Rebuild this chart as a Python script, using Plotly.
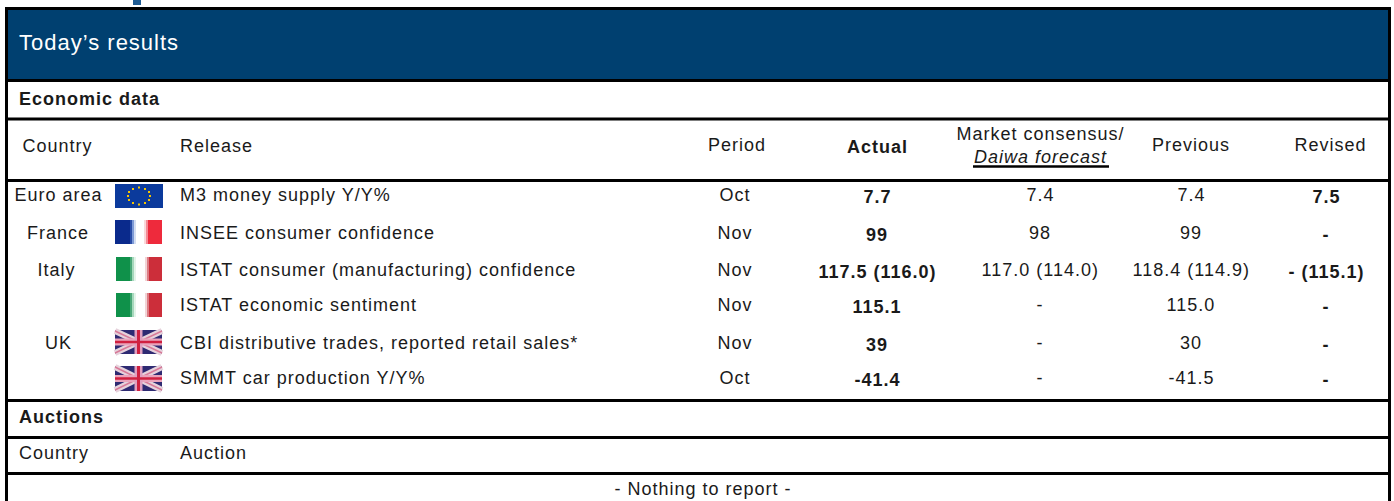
import plotly.graph_objects as go

title = "Today’s results"
section_economic = "Economic data"
section_auctions = "Auctions"
headers = ["Country", "Release", "Period", "Actual", "Market consensus/<br><i>Daiwa forecast</i>", "Previous", "Revised"]
countries = ["Euro area", "France", "Italy", "", "UK", ""]
releases = ["M3 money supply Y/Y%", "INSEE consumer confidence",
            "ISTAT consumer (manufacturing) confidence", "ISTAT economic sentiment",
            "CBI distributive trades, reported retail sales*", "SMMT car production Y/Y%"]
periods = ["Oct", "Nov", "Nov", "Nov", "Nov", "Oct"]
actual = ["7.7", "99", "117.5 (116.0)", "115.1", "39", "-41.4"]
consensus = ["7.4", "98", "117.0 (114.0)", "-", "-", "-"]
previous = ["7.4", "99", "118.4 (114.9)", "115.0", "30", "-41.5"]
revised = ["7.5", "-", "- (115.1)", "-", "-", "-"]
auction_headers = ["Country", "Auction"]
nothing = "- Nothing to report -"

W, H = 1394, 501
FONT = "Liberation Sans"
INK = "#1a1a1a"
NAVY = "#004070"
row_y = [195, 233, 270, 305, 343, 378]
country_x = [59, 58, 56, 58, 58, 58]
flag_y = [(184, 208), (220, 244), (257, 281), (293, 317), (330, 354), (366, 391)]
col_x = dict(release=178, period=735, actual=877, cons=1040, prev=1191, rev=1326)
rules = [80.5, 119, 180.5, 400.5, 437.5, 473.5]
R = 1389.5

fig = go.Figure()
shapes, ann = [], []

def rect(x0, y0, x1, y1, color):
    shapes.append(dict(type="rect", x0=x0, y0=y0, x1=x1, y1=y1, fillcolor=color,
                       line=dict(width=0), layer="below"))

def line(x0, y0, x1, y1, color="#000000", w=3):
    shapes.append(dict(type="line", x0=x0, y0=y0, x1=x1, y1=y1, line=dict(color=color, width=w), layer="below"))

def text(x, y, s, size=18, anchor="center", color=INK, bold=False):
    ann.append(dict(x=x, y=y, text=f"<b>{s}</b>" if bold else s, showarrow=False, xanchor=anchor,
                    yanchor="middle", align=anchor, font=dict(family=FONT, size=size, color=color)))

rect(133, 0, 141, 5, "#1f5c94")
rect(6, 9, R, 80, NAVY)
for r in rules:
    line(5, r, R + 1.5, r)
line(6.5, 8, 6.5, H)
line(R, 8, R, H)
line(5, 8.5, R + 1.5, 8.5)

text(17, 42, title, 22, "left", "#ffffff")
text(17, 99, section_economic, 18, "left", bold=True)
text(17, 417, section_auctions, 18, "left", bold=True)

text(57.5, 146, headers[0])
text(col_x["release"], 146, headers[1], anchor="left")
text(737, 145, headers[2])
text(col_x["actual"], 147, headers[3], bold=True)
text(col_x["cons"], 145, headers[4])
text(col_x["prev"], 145, headers[5])
text(1330, 145, headers[6])
line(973, 166.5, 1109, 166.5, w=2.5)

for i, y in enumerate(row_y):
    if countries[i]:
        text(country_x[i], y, countries[i])
    text(col_x["release"], y, releases[i], anchor="left")
    text(col_x["period"], y, periods[i])
    text(col_x["actual"], y + 2, actual[i], bold=True)
    text(col_x["cons"], y, consensus[i])
    text(col_x["prev"], y, previous[i])
    text(col_x["rev"], y + 2, revised[i], bold=True)

text(17, 453, auction_headers[0], anchor="left")
text(col_x["release"], 453, auction_headers[1], anchor="left")
text(703, 489, nothing, 18)

def strips(x0, y0, y1, stops):
    for a, b, c in stops:
        rect(x0 + a, y0, x0 + b, y1, c)

y0, y1 = flag_y[0]
rect(115, y0, 163, y1, "#0b3a9c")
fig.add_trace(go.Scatter(
    x=[139, 145, 149, 150, 149, 145, 139, 133, 129, 128, 129, 133],
    y=[187.5, 189, 192, 196, 200, 203, 204.5, 203, 200, 196, 192, 189],
    mode="markers", marker=dict(size=2, color="#f5c400", symbol="square"),
    hoverinfo="skip", showlegend=False))

y0, y1 = flag_y[1]
strips(115, y0, y1, [(0, 15, "#0a2a8c"), (15, 17, "#2a4da8"), (17, 19, "#7e9ad6"), (19, 21, "#d4def2"),
                     (21, 29, "#ffffff"), (29, 31, "#fad8da"), (31, 33, "#f48a94"), (33, 47, "#ee2a3c")])
for k in (2, 3):
    y0, y1 = flag_y[k]
    strips(116, y0, y1, [(0, 14, "#0f914a"), (14, 16, "#4aa878"), (16, 18, "#a6d8bc"), (18, 20, "#e4f4ea"),
                         (20, 29, "#ffffff"), (29, 31, "#f2d4d6"), (31, 33, "#dc7c84"), (33, 46, "#cc2e3a")])
for k in (4, 5):
    y0, y1 = flag_y[k]
    mid = (y0 + y1) / 2
    rect(115, y0, 162, y1, "#2e2a72")
    line(115, y0 + 1, 162, y1 - 1, "#e6d2dc", 6)
    line(115, y1 - 1, 162, y0 + 1, "#e6d2dc", 6)
    line(115, y0 + 1, 162, y1 - 1, "#d87a98", 1.5)
    line(115, y1 - 1, 162, y0 + 1, "#d87a98", 1.5)
    line(115, mid, 162, mid, "#eaa4bc", 7)
    line(138.5, y0, 138.5, y1, "#e0a0c0", 8)
    line(115, mid, 162, mid, "#d02040", 2.5)
    line(138.5, y0, 138.5, y1, "#d02040", 3)

fig.update_layout(
    width=W, height=H, margin=dict(l=0, r=0, t=0, b=0),
    paper_bgcolor="#ffffff", plot_bgcolor="#ffffff", showlegend=False,
    shapes=shapes, annotations=ann,
    xaxis=dict(range=[0, W], visible=False, fixedrange=True),
    yaxis=dict(range=[H, 0], visible=False, fixedrange=True),
)
css = ("var s=document.createElement('style');"
       "s.textContent='html,body{margin:0;padding:0;overflow:hidden}.annotation-text{letter-spacing:1px}';"
       "document.head.appendChild(s);")
fig.write_html("out.html", config={"displayModeBar": False}, post_script=css)
